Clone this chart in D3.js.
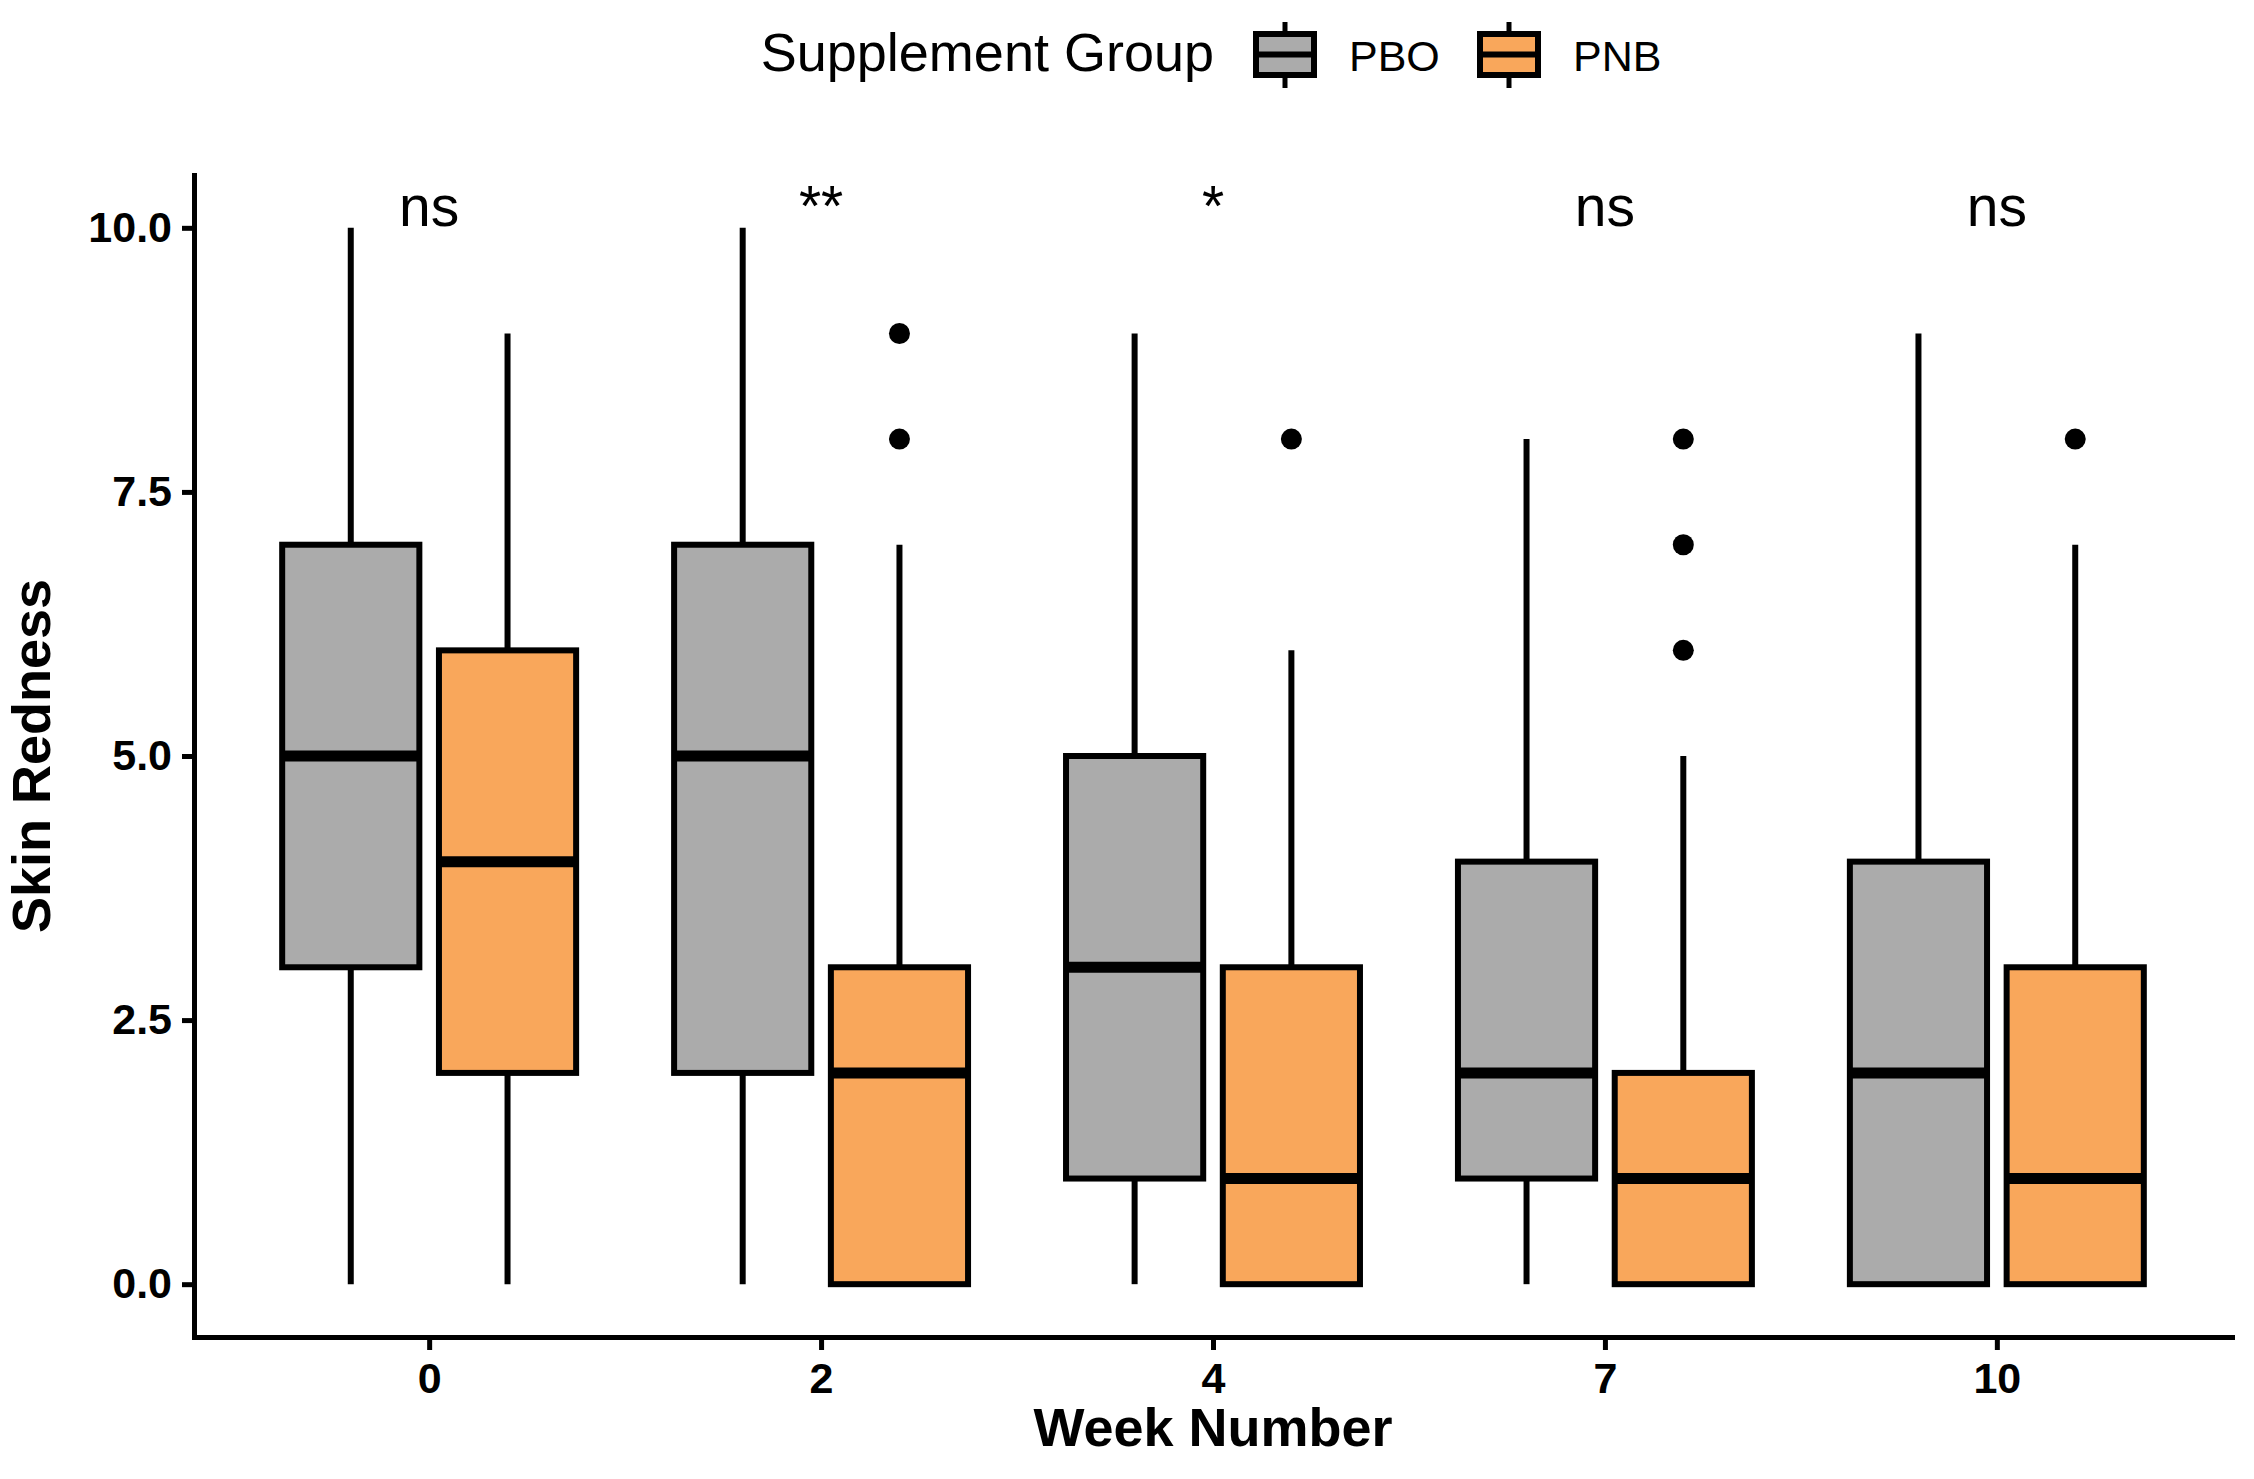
<!DOCTYPE html>
<html>
<head>
<meta charset="utf-8">
<script src="https://cdn.jsdelivr.net/npm/d3@7"></script>
<style>
  html, body { margin: 0; padding: 0; background: #fff; }
  svg { display: block; }
  text { font-family: "Liberation Sans", Arial, Helvetica, sans-serif; }
</style>
</head>
<body>
<svg id="chart" width="2254" height="1479"></svg>
<script>
// ---- Data ----
const weeks = ["0", "2", "4", "7", "10"];
const groups = ["PBO", "PNB"];
const pboLower  = [0, 0, 0, 0, 0];
const pboQ1     = [3, 2, 1, 1, 0];
const pboMedian = [5, 5, 3, 2, 2];
const pboQ3     = [7, 7, 5, 4, 4];
const pboUpper  = [10, 10, 9, 8, 9];
const pboOutliers = [[], [], [], [], []];
const pnbLower  = [0, 0, 0, 0, 0];
const pnbQ1     = [2, 0, 0, 0, 0];
const pnbMedian = [4, 2, 1, 1, 1];
const pnbQ3     = [6, 3, 3, 2, 3];
const pnbUpper  = [9, 7, 6, 5, 7];
const pnbOutliers = [[], [8, 9], [8], [6, 7, 8], [8]];
const significance = ["ns", "**", "*", "ns", "ns"];
const yTicks = [0, 2.5, 5, 7.5, 10];
const groupColors = {PBO: "#ababab", PNB: "#f9a75b"};

(function () {
// ---- Build records ----
const boxes = [];
weeks.forEach((w, i) => {
  boxes.push({week: w, group: "PBO", lo: pboLower[i], q1: pboQ1[i], med: pboMedian[i], q3: pboQ3[i], hi: pboUpper[i], out: pboOutliers[i]});
  boxes.push({week: w, group: "PNB", lo: pnbLower[i], q1: pnbQ1[i], med: pnbMedian[i], q3: pnbQ3[i], hi: pnbUpper[i], out: pnbOutliers[i]});
});

// ---- Layout ----
const pLeft = 194, pRight = 2232, pTop = 175, pBottom = 1337;
const svg = d3.select("#chart");

const x = d3.scalePoint().domain(weeks).range([pLeft, pRight]).padding(0.6);
const step = x.step();
const dodge = d3.scaleBand().domain(groups).range([-0.4 * step, 0.4 * step]).paddingInner(0).paddingOuter(0);
const boxW = 0.35 * step;
const y = d3.scaleLinear().domain([-0.5, 10.5]).range([pBottom, pTop]);

const cx = d => x(d.week) + dodge(d.group) + dodge.bandwidth() / 2;

const lw = 6, medW = 11;

const g = svg.append("g");

// whiskers
g.selectAll("line.wu").data(boxes).enter().append("line")
  .attr("x1", cx).attr("x2", cx)
  .attr("y1", d => y(d.q3)).attr("y2", d => y(d.hi))
  .attr("stroke", "#000").attr("stroke-width", lw);
g.selectAll("line.wl").data(boxes.filter(d => d.lo < d.q1)).enter().append("line")
  .attr("x1", cx).attr("x2", cx)
  .attr("y1", d => y(d.q1)).attr("y2", d => y(d.lo))
  .attr("stroke", "#000").attr("stroke-width", lw);

// boxes
g.selectAll("rect.box").data(boxes).enter().append("rect")
  .attr("x", d => cx(d) - boxW / 2)
  .attr("width", boxW)
  .attr("y", d => y(d.q3))
  .attr("height", d => y(d.q1) - y(d.q3))
  .attr("fill", d => groupColors[d.group])
  .attr("stroke", "#000").attr("stroke-width", lw);

// medians
g.selectAll("line.med").data(boxes).enter().append("line")
  .attr("x1", d => cx(d) - boxW / 2).attr("x2", d => cx(d) + boxW / 2)
  .attr("y1", d => y(d.med)).attr("y2", d => y(d.med))
  .attr("stroke", "#000").attr("stroke-width", medW);

// outliers
const outs = [];
boxes.forEach(d => d.out.forEach(v => outs.push({week: d.week, group: d.group, v})));
g.selectAll("circle.out").data(outs).enter().append("circle")
  .attr("cx", cx).attr("cy", d => y(d.v)).attr("r", 10.5).attr("fill", "#000");

// significance labels
g.selectAll("text.sig").data(weeks).enter().append("text")
  .attr("x", d => x(d)).attr("y", y(10) - 2)
  .attr("text-anchor", "middle")
  .attr("font-size", 57)
  .text((d, i) => significance[i]);

// ---- Axes ----
const yAxis = d3.axisLeft(y).tickValues(yTicks).tickFormat(d3.format(".1f")).tickSize(12).tickSizeOuter(0).tickPadding(10);
const ya = svg.append("g").attr("transform", `translate(${pLeft},0)`).call(yAxis);
ya.select(".domain").attr("stroke-width", 5).attr("stroke-linecap", "square");
ya.selectAll(".tick line").attr("stroke-width", 5);
ya.selectAll(".tick text").attr("font-size", 43).attr("font-weight", "bold").attr("fill", "#000")
  .attr("font-family", "'Liberation Sans', Arial, sans-serif");

const xAxis = d3.axisBottom(x).tickSize(13).tickSizeOuter(0).tickPadding(12);
const xa = svg.append("g").attr("transform", `translate(0,${pBottom})`).call(xAxis);
xa.select(".domain").attr("stroke-width", 5).attr("stroke-linecap", "square");
xa.selectAll(".tick line").attr("stroke-width", 5);
xa.selectAll(".tick text").attr("font-size", 43).attr("font-weight", "bold").attr("fill", "#000")
  .attr("font-family", "'Liberation Sans', Arial, sans-serif");

// axis titles
svg.append("text").attr("x", (pLeft + pRight) / 2).attr("y", 1446)
  .attr("text-anchor", "middle").attr("font-size", 54).attr("font-weight", "bold")
  .text("Week Number");
svg.append("text").attr("transform", `translate(50,${(pTop + pBottom) / 2}) rotate(-90)`)
  .attr("text-anchor", "middle").attr("font-size", 54).attr("font-weight", "bold")
  .text("Skin Redness");

// ---- Legend ----
const leg = svg.append("g");
leg.append("text").attr("x", 1214).attr("y", 71).attr("text-anchor", "end")
  .attr("font-size", 54).text("Supplement Group");
const keyX = {PBO: 1256, PNB: 1480};
const keyW = 58;
groups.forEach(gname => {
  const kx = keyX[gname];
  const kcx = kx + keyW / 2;
  leg.append("line").attr("x1", kcx).attr("x2", kcx).attr("y1", 22).attr("y2", 88)
    .attr("stroke", "#000").attr("stroke-width", 5);
  leg.append("rect").attr("x", kx).attr("y", 34).attr("width", keyW).attr("height", 41)
    .attr("fill", groupColors[gname]).attr("stroke", "#000").attr("stroke-width", 6);
  leg.append("line").attr("x1", kx).attr("x2", kx + keyW).attr("y1", 54.5).attr("y2", 54.5)
    .attr("stroke", "#000").attr("stroke-width", 6);
  leg.append("text").attr("x", kx + keyW + 35).attr("y", 71)
    .attr("font-size", 43).text(gname);
});
})();
</script>
</body>
</html>
